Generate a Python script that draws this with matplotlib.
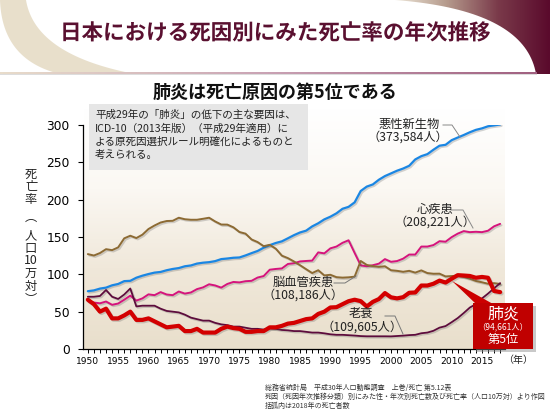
import numpy as np
import matplotlib
matplotlib.use('Agg')
import matplotlib.pyplot as plt
from matplotlib.patches import Polygon, Rectangle
import matplotlib.patheffects as pe
from matplotlib.colors import LinearSegmentedColormap

plt.rcParams['font.family'] = ['Noto Sans CJK JP', 'DejaVu Sans']

# ---------------- data (rate per 100,000) ----------------
years = list(range(1950, 2019))
cancer = [77.4, 78.5, 80.9, 82.2, 85.3, 87.1, 90.9, 91.3, 95.5, 98.2,
          100.4, 102.3, 103.2, 105.5, 107.2, 108.4, 110.8, 111.9, 114.4, 115.6,
          116.3, 117.7, 120.4, 121.2, 122.2, 122.6, 125.3, 128.4, 131.3, 135.7,
          139.1, 142.0, 144.2, 148.3, 152.5, 156.1, 158.5, 164.2, 168.4, 173.6,
          177.2, 181.7, 187.8, 190.4, 196.4, 211.6, 217.5, 220.4, 226.7, 231.6,
          235.2, 238.8, 241.7, 245.4, 253.9, 258.3, 261.0, 266.9, 272.3, 273.5,
          279.7, 283.2, 286.6, 290.3, 293.5, 295.5, 298.3, 299.5, 300.7]
heart = [64.2, 62.2, 61.2, 63.6, 59.2, 60.9, 66.0, 71.5, 64.8, 67.8,
         73.2, 72.1, 76.2, 73.0, 72.1, 77.0, 74.2, 75.7, 80.2, 82.5,
         86.7, 85.1, 82.2, 87.1, 89.8, 89.2, 90.8, 91.3, 95.7, 97.7,
         106.2, 107.2, 107.9, 113.9, 114.9, 117.3, 117.9, 118.4, 129.4, 128.1,
         134.8, 137.2, 142.2, 145.6, 128.6, 112.0, 110.8, 112.2, 114.3, 120.4,
         116.8, 117.8, 121.0, 126.5, 126.5, 137.2, 137.2, 139.2, 144.4, 143.7,
         149.8, 154.5, 157.9, 156.5, 157.0, 156.5, 158.4, 164.3, 167.6]
cerebro = [127.1, 125.2, 128.5, 133.7, 132.4, 136.1, 148.2, 151.7, 148.6, 153.1,
           160.7, 165.4, 169.4, 171.4, 171.7, 175.8, 173.8, 173.1, 173.1, 174.4,
           175.8, 170.8, 166.7, 166.6, 163.0, 156.7, 154.5, 146.7, 143.2, 137.7,
           139.5, 134.3, 125.0, 121.7, 117.2, 112.2, 106.9, 101.7, 105.5, 98.5,
           99.4, 96.2, 95.6, 96.0, 96.9, 117.9, 112.6, 111.0, 110.0, 110.8,
           105.5, 104.7, 103.4, 104.7, 102.3, 105.3, 101.7, 100.8, 100.9, 97.2,
           97.7, 98.2, 96.5, 94.1, 91.1, 89.4, 87.4, 88.2, 87.1]
senility = [70, 70, 71, 79, 70, 67, 73, 81, 57, 58,
            58, 58, 54, 51, 50, 49, 46, 42, 40, 38,
            38, 35, 33, 32, 30, 30, 28.5, 27, 27, 26,
            27.6, 27, 25.5, 25, 24, 24, 23, 22, 22, 21,
            19.7, 19, 19, 18.5, 18, 17.3, 17, 17, 17, 17,
            16.9, 17.4, 17.9, 18.6, 19.0, 21.1, 22.0, 24.4, 28.6, 30.7,
            35.9, 41.4, 48.2, 55.5, 60.1, 67.7, 74.2, 81.3, 88.2]
pneumonia = [66, 60, 50, 54, 41, 41, 45, 50, 39, 39,
             41, 37, 33, 29, 30, 31, 24, 24, 27, 22,
             22, 22, 27, 30, 28, 27, 23, 23, 24, 24,
             29, 29, 31, 34, 35, 37.5, 40, 41, 47, 50,
             55.6, 56, 60, 64, 66, 64.1, 56.9, 63.1, 66.9, 74.9,
             69.2, 67.8, 69.4, 75.3, 75.7, 85.0, 85.0, 87.4, 91.6, 89.0,
             94.1, 98.9, 98.4, 97.8, 95.4, 96.5, 95.4, 77.7, 76.2]

x_major = list(range(1950, 2016, 5))
y_major = [0, 50, 100, 150, 200, 250, 300]

title = '日本における死因別にみた死亡率の年次推移'
subtitle = '肺炎は死亡原因の第5位である'
note_lines = ['平成29年の「肺炎」の低下の主な要因は、',
              'ICD-10（2013年版）（平成29年適用）に',
              'よる原死因選択ルール明確化によるものと',
              '考えられる。']
source_lines = ['総務省統計局　平成30年人口動態調査　上巻/死亡 第5.12表',
                '死因（死因年次推移分類）別にみた性・年次別死亡数及び死亡率（人口10万対）より作図',
                '括弧内は2018年の死亡者数']

# ---------------- figure ----------------
W, H = 550, 412
fig = plt.figure(figsize=(5.5, 4.12), dpi=100)
fig.patch.set_facecolor('white')

bg = fig.add_axes([0, 0, 1, 1], zorder=0)
bg.set_xlim(0, W); bg.set_ylim(H, 0); bg.axis('off')

def qbez(p0, p1, p2, n=40):
    t = np.linspace(0, 1, n)[:, None]
    p0, p1, p2 = map(np.array, (p0, p1, p2))
    return (1 - t) ** 2 * p0 + 2 * (1 - t) * t * p1 + t ** 2 * p2

# left beige crescent
outer = qbez((0, 0), (2, 60), (60, 74))
inner = qbez((135, 74), (35, 55), (26, 0))
left_poly = Polygon(np.vstack([outer, inner]), closed=True,
                    facecolor='#e6dcc6', edgecolor='none', alpha=0.9)
bg.add_patch(left_poly)

# right maroon swoosh with gradient
curve = qbez((395, 0), (525, 10), (536, 74))
right_pts = np.vstack([curve, [(550, 74), (550, 0)]])
right_poly = Polygon(right_pts, closed=True, facecolor='none', edgecolor='none')
bg.add_patch(right_poly)
cmap_r = LinearSegmentedColormap.from_list('sw', ['#ede6d8', '#b59a8c', '#7a3a4a', '#5a0a2c'])
grad = np.linspace(0, 1, 200)[None, :]
im = bg.imshow(grad, extent=(395, 550, 74, 0), cmap=cmap_r, aspect='auto', zorder=1)
im.set_clip_path(right_poly)

# separator line
cmap_l = LinearSegmentedColormap.from_list('ln', ['#e8dccb', '#c9a2b4', '#a06080'])
ln = np.linspace(0, 1, 300)[None, :]
bg.imshow(ln, extent=(0, 537, 74.2, 72.4), cmap=cmap_l, aspect='auto', zorder=2)
bg.add_patch(Rectangle((0, 74.2), 537, 1.2, facecolor='#dddddd', edgecolor='none', zorder=2))

# plot area gradient
cmap_p = LinearSegmentedColormap.from_list('pa', ['#ffffff', '#fbf8f3', '#f0e8da', '#e9dfcc'])
pg = np.linspace(0, 1, 200)[:, None]
bg.imshow(pg, extent=(84, 505, 349, 108), cmap=cmap_p, aspect='auto', zorder=1)

# ---------------- main chart ----------------
ax = fig.add_axes([83 / W, 1 - 349 / H, (505 - 83) / W, (349 - 125) / H], zorder=2)
ax.set_facecolor('none')
ax.set_xlim(1949.2, 2018.8)
ax.set_ylim(0, 300)
for s in ['top', 'right']:
    ax.spines[s].set_visible(False)
for s in ['left', 'bottom']:
    ax.spines[s].set_color('black')
    ax.spines[s].set_linewidth(0.9)
ax.spines['left'].set_bounds(0, 300)

ax.set_xticks(x_major)
ax.set_xticklabels([str(v) for v in x_major], fontsize=6.6, family=['DejaVu Sans'])
ax.set_xticks(years, minor=True)
ax.set_yticks(y_major)
ax.set_yticklabels([str(v) for v in y_major], fontsize=8.8, family=['DejaVu Sans'])
ax.tick_params(axis='x', which='both', direction='out', length=3.2, width=0.7, pad=2.5)
ax.tick_params(axis='y', direction='out', length=3.6, width=0.8, pad=6)

shadow = [pe.SimpleLineShadow(offset=(1.0, -1.0), alpha=0.25, shadow_color='#555555'), pe.Normal()]
series = [
    (cancer, '#1a86e3', 1.6),
    (heart, '#d5147c', 1.4),
    (cerebro, '#8c6a33', 1.4),
    (senility, '#5d0c3c', 1.3),
    (pneumonia, '#d30000', 3.0),
]
for vals, col, lw in series:
    ax.plot(years, vals, color=col, lw=lw, solid_joinstyle='round',
            solid_capstyle='round', path_effects=shadow)

# ---------------- overlay texts ----------------
fg = fig.add_axes([0, 0, 1, 1], zorder=5)
fg.set_xlim(0, W); fg.set_ylim(H, 0); fg.axis('off'); fg.set_facecolor('none')

fg.text(275, 33, title, ha='center', va='center', fontsize=15.5, fontweight='bold',
        color='#5a1030',
        path_effects=[pe.withStroke(linewidth=2.0, foreground='white')])
fg.text(275, 92, subtitle, ha='center', va='center', fontsize=13, fontweight='bold',
        color='#111111')

fg.add_patch(Rectangle((89, 104), 219, 66, facecolor='#e6e6e6', edgecolor='none'))
for i, s in enumerate(note_lines):
    fg.text(95, 115 + i * 13.3, s, ha='left', va='center', fontsize=7.6, color='#222222')

# y label (vertical)
ylab = [('死', 174), ('亡', 186), ('率', 199), ('︵', 217), ('人', 236),
        ('口', 248), ('10', 260), ('万', 273), ('対', 286), ('︶', 300)]
for ch, yy in ylab:
    fg.text(31, yy, ch, ha='center', va='center', fontsize=8.8, color='#222222')

fg.text(518, 360, '（年）', ha='center', va='center', fontsize=7.2, color='#222222')

# series labels
lab_kw = dict(ha='center', va='center', fontsize=8.8, color='#222222')
fg.text(409, 124, '悪性新生物', **lab_kw)
fg.text(408, 137, '（373,584人）', **lab_kw)
fg.plot([443, 452, 460], [125, 125, 137], color='#888888', lw=0.7)

fg.text(435, 209, '心疾患', **lab_kw)
fg.text(435, 222, '（208,221人）', **lab_kw)
fg.plot([451, 463, 473], [210, 210, 228], color='#888888', lw=0.7)

fg.text(303, 282, '脳血管疾患', **lab_kw)
fg.text(303, 295, '（108,186人）', **lab_kw)
fg.plot([334, 345, 356], [283, 283, 276], color='#777777', lw=0.7)

fg.text(361, 313, '老衰', **lab_kw)
fg.text(362, 327, '（109,605人）', **lab_kw)
fg.plot([385, 395, 403], [316, 316, 334], color='#777777', lw=0.7)

# pneumonia callout
fg.add_patch(Polygon([(452, 281), (476, 304), (493, 304)], closed=True,
                     facecolor='#cc0000', edgecolor='none'))
fg.add_patch(Rectangle((475.5, 305.5), 60, 46, facecolor='#888888', edgecolor='none', alpha=0.45))
fg.add_patch(Rectangle((473, 303), 60, 46, facecolor='#c00000', edgecolor='none'))
fg.text(503, 314, '肺炎', ha='center', va='center', fontsize=11.5, color='white')
fg.text(503, 327, '（94,661人）', ha='center', va='center', fontsize=6.0, color='white')
fg.text(503, 339, '第5位', ha='center', va='center', fontsize=8.8, color='white')

for i, s in enumerate(source_lines):
    fg.text(265, 388 + i * 9, s, ha='left', va='center', fontsize=5.0, color='#333333')

fig.savefig('out.png', dpi=100, facecolor='white')
